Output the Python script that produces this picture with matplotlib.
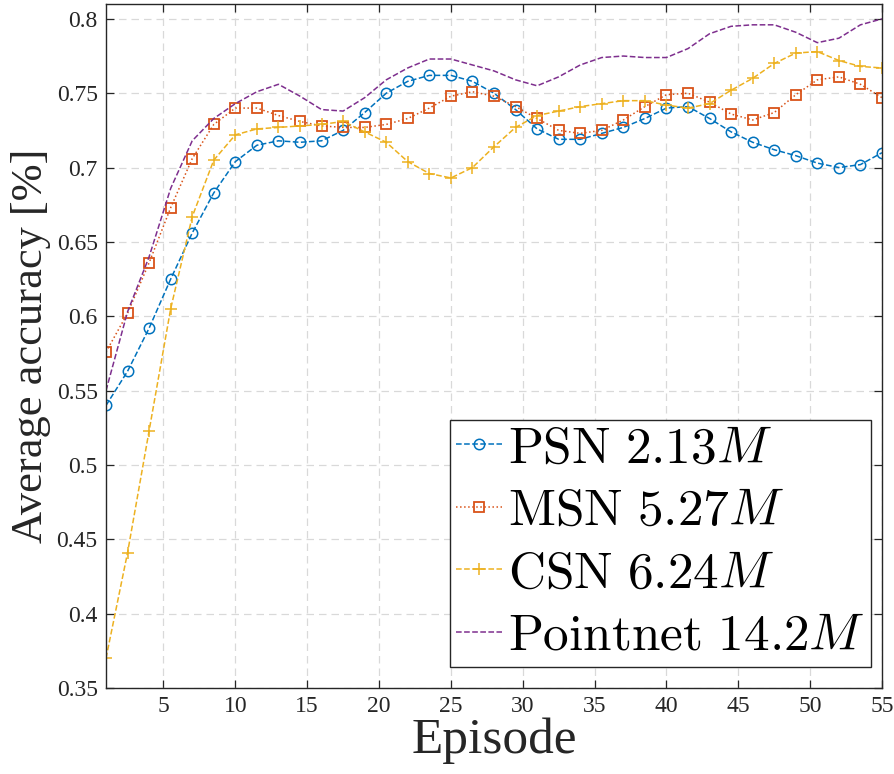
import matplotlib
matplotlib.use("Agg")
import matplotlib.pyplot as plt
import numpy as np

plt.rcParams['font.family'] = ['Liberation Serif', 'DejaVu Serif']
plt.rcParams['mathtext.fontset'] = 'cm'

# episodes sampled every 1.5 from 1 to 55
episodes = np.arange(1, 55.01, 1.5)

psn = [0.540, 0.563, 0.592, 0.625, 0.656, 0.683, 0.704, 0.715, 0.718, 0.717,
       0.718, 0.725, 0.737, 0.750, 0.758, 0.762, 0.762, 0.758, 0.750, 0.739,
       0.726, 0.719, 0.719, 0.723, 0.727, 0.733, 0.740, 0.741, 0.733, 0.724,
       0.717, 0.712, 0.708, 0.703, 0.700, 0.702, 0.710]
msn = [0.576, 0.602, 0.636, 0.673, 0.706, 0.729, 0.740, 0.740, 0.735, 0.731,
       0.728, 0.727, 0.727, 0.729, 0.733, 0.740, 0.748, 0.751, 0.748, 0.741,
       0.733, 0.725, 0.723, 0.725, 0.732, 0.741, 0.749, 0.750, 0.744, 0.736,
       0.732, 0.737, 0.749, 0.759, 0.761, 0.756, 0.747]
csn = [0.370, 0.441, 0.523, 0.605, 0.667, 0.705, 0.722, 0.726, 0.727, 0.728,
       0.729, 0.731, 0.724, 0.717, 0.704, 0.696, 0.693, 0.700, 0.714, 0.727,
       0.735, 0.738, 0.741, 0.743, 0.745, 0.745, 0.742, 0.740, 0.743, 0.752,
       0.760, 0.770, 0.777, 0.778, 0.772, 0.768, 0.767]
pointnet = [0.550, 0.603, 0.640, 0.686, 0.718, 0.733, 0.743, 0.751, 0.756, 0.748,
            0.739, 0.738, 0.747, 0.759, 0.767, 0.773, 0.773, 0.769, 0.765, 0.759,
            0.755, 0.761, 0.769, 0.774, 0.775, 0.774, 0.774, 0.780, 0.790, 0.795,
            0.796, 0.796, 0.791, 0.784, 0.787, 0.796, 0.800]

labels = [r'$\mathrm{PSN\ 2.13}M$', r'$\mathrm{MSN\ 5.27}M$',
          r'$\mathrm{CSN\ 6.24}M$', r'$\mathrm{Pointnet\ 14.2}M$']

fig = plt.figure(figsize=(8.94, 7.74), dpi=100)
ax = fig.add_axes([106 / 894, 1 - 688 / 774, 776 / 894, 684 / 774])

ax.plot(episodes, psn, linestyle='--', color='#0072BD', lw=1.1, marker='o',
        markersize=7.5, markerfacecolor='none', markeredgewidth=1.1, label=labels[0])
ax.plot(episodes, msn, linestyle=':', color='#D95319', lw=1.1, marker='s',
        markersize=7.5, markerfacecolor='none', markeredgewidth=1.3, label=labels[1])
ax.plot(episodes, csn, linestyle='--', color='#EDB120', lw=1.1, marker='+',
        markersize=9, markeredgewidth=1.1, label=labels[2])
ax.plot(episodes, pointnet, linestyle='--', color='#7E2F8E', lw=1.1, label=labels[3])

ax.set_xlim(1, 55)
ax.set_ylim(0.35, 0.81)
ax.set_xticks(np.arange(5, 56, 5))
ax.set_yticks(np.arange(0.35, 0.801, 0.05))
ax.set_yticklabels([f'{v:g}' for v in np.round(np.arange(0.35, 0.801, 0.05), 2)])

ax.grid(True, linestyle=(0, (6, 4)), color='#d9d9d9', lw=0.9)
ax.set_axisbelow(True)
for s in ax.spines.values():
    s.set_color('#262626')
    s.set_linewidth(1.0)
ax.tick_params(direction='in', length=6, width=0.9, color='#262626',
               top=True, right=True, labelsize=17, labelcolor='#262626', pad=6)

ax.set_xlabel('Episode', fontsize=37, color='#262626', labelpad=0)
ax.set_ylabel('Average accuracy [%]', fontsize=32, color='#262626', labelpad=4)

leg = ax.legend(loc='lower right', bbox_to_anchor=(0.986, 0.031), borderaxespad=0,
                fontsize=37, handlelength=0.9, handletextpad=0.12, labelspacing=0.3,
                borderpad=0.12, fancybox=False, framealpha=1, edgecolor='#262626')
leg.get_frame().set_linewidth(1.0)

fig.savefig('out.png', dpi=100)
